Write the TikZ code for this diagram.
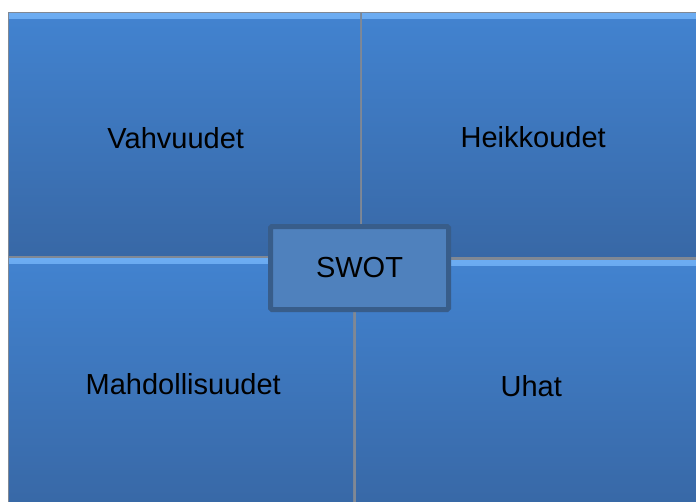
\documentclass[tikz,border=0pt]{standalone}
\usepackage{fontspec}
\setmainfont{Liberation Sans}
\usetikzlibrary{positioning}
\definecolor{boxtop}{RGB}{66,131,208}
\definecolor{boxbot}{RGB}{56,104,166}
\definecolor{boxshine}{RGB}{108,172,242}
\definecolor{gapgray}{RGB}{128,136,148}
\definecolor{swotfill}{RGB}{79,129,189}
\definecolor{swotline}{RGB}{56,93,138}
\tikzset{x=1pt,y=-1pt}
\tikzset{quad/.style={anchor=north west,inner sep=0pt,
        top color=boxtop,bottom color=boxbot,
        path picture={
            \shade[top color=boxshine,bottom color=boxtop]
                (path picture bounding box.north west)
                rectangle ([yshift=-5pt]path picture bounding box.north east);
        }}}
\tikzset{quadtext/.style={inner sep=0pt,font=\fontsize{29}{34}\selectfont}}
\tikzset{centerbox/.style={fill=swotfill,draw=swotline,line width=5pt,
        rounded corners=1.5pt,minimum width=178pt,minimum height=83pt,
        inner sep=0pt,font=\fontsize{29}{34}\selectfont}}

\begin{document}
\begin{tikzpicture}
    \useasboundingbox (0,0) rectangle (696,501);
        % gaps between the four boxes
        \fill[gapgray] (8,12) rectangle (700,505);
        \node[quad,minimum width=351pt,minimum height=242pt] (vahvuudet)      at (9,13)   {};
        \node[quad,minimum width=340pt,minimum height=243pt] (heikkoudet)     at (362,13) {};
        \node[quad,minimum width=344pt,minimum height=248pt] (mahdollisuudet) at (9,258)  {};
        \node[quad,minimum width=346pt,minimum height=246pt] (uhat)           at (356,260) {};
        \node[quadtext] at ([xshift=-9pt,yshift=-4pt]vahvuudet.center)     {Vahvuudet};
        \node[quadtext] at ([xshift=1pt,yshift=-2pt]heikkoudet.center)     {Heikkoudet};
        \node[quadtext] at ([xshift=2pt,yshift=-2pt]mahdollisuudet.center) {Mahdollisuudet};
        \node[quadtext] at ([xshift=2pt,yshift=-3pt]uhat.center)           {Uhat};
        \node[centerbox] (swot) at (359.5,268) {SWOT};
\end{tikzpicture}
\end{document}
